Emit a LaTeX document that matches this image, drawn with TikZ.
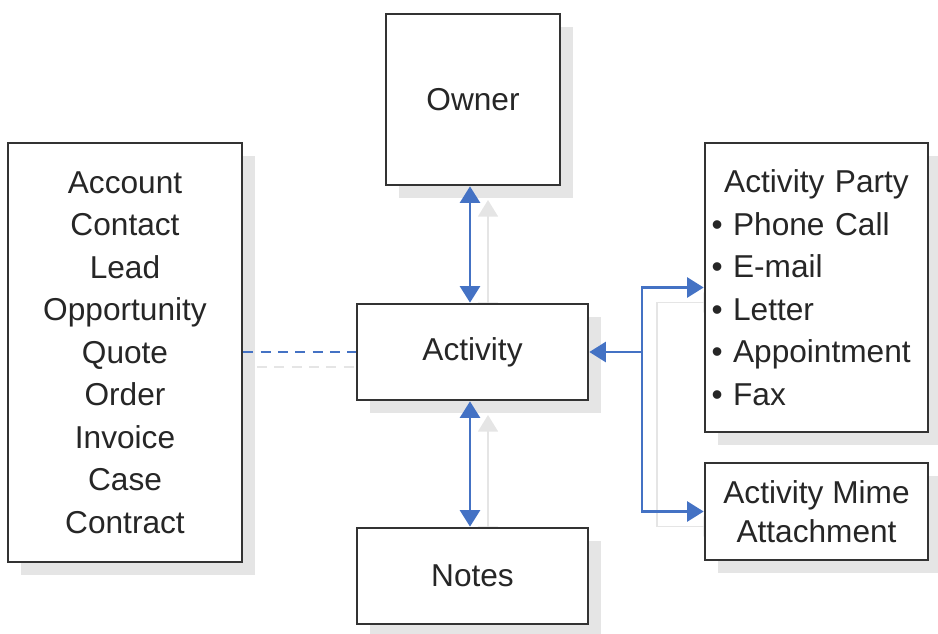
\documentclass[tikz,border=0pt]{standalone}
\usepackage{fontspec}
\setmainfont{Liberation Sans}
\usetikzlibrary{arrows.meta,shadows}
\definecolor{linkblue}{RGB}{68,114,196}
\tikzset{
	box/.style={draw=black!80, line width=2.2pt, fill=white, inner sep=2pt,
		drop shadow={shadow xshift=0.4cm, shadow yshift=-0.4cm, fill=black!10, opacity=1},
		font=\fontsize{27}{36.3}\selectfont, text=black!85},
	tip/.tip={Triangle[width=0.6cm,length=0.5cm]},
	link/.style={linkblue, line width=2.5pt, tip-tip},
	feed/.style={linkblue, line width=2.5pt, -tip},
	ghost/.style={black!10, line width=1.5pt, transform canvas={shift={(0.45cm,-0.45cm)}}}
}
\begin{document}
	\begin{tikzpicture}[x=0.03cm,y=-0.03cm]
		\useasboundingbox (0,0) rectangle (938,633);
		\coordinate (fork) at (642,352);
		\coordinate (ghostfork) at (642,352);
		% faint copies of the connectors
		\draw[link,ghost] (473,185) -- (473,304);
		\draw[link,ghost] (473,400) -- (473,528);
		\draw[link,ghost] (705,287.5) -| (ghostfork) |- (705,511.5);
		\draw[ghost,dashed,dash pattern=on 0.3cm off 0.22cm] (242,352) -- (357,352);
		\node[box, minimum width=7.02cm, minimum height=12.57cm, align=center] (objects) at (125,352.5)
			{Account\\Contact\\Lead\\Opportunity\\Quote\\Order\\Invoice\\Case\\Contract};
		\node[box, minimum width=5.22cm, minimum height=5.13cm] (owner) at (473,99.5) {Owner};
		\node[box, minimum width=6.93cm, minimum height=2.88cm] (activity) at (472.5,352) {Activity};
		\node[box, minimum width=6.93cm, minimum height=2.88cm] (notes) at (472.5,576) {Notes};
		\node[box, minimum width=6.69cm, minimum height=8.67cm, text width=6.3cm] (party) at (816.5,287.5)
			{{\centering Activity Party\par}\raggedright
			\textbullet\ Phone Call\\\textbullet\ E-mail\\\textbullet\ Letter\\\textbullet\ Appointment\\\textbullet\ Fax};
		\node[box, minimum width=6.69cm, minimum height=2.91cm, align=center, font=\fontsize{27}{33}\selectfont] (mime) at (816.5,511.5)
			{Activity Mime\\Attachment};
		\draw[link] (owner.south -| 470,0) -- (activity.north -| 470,0);
		\draw[link] (activity.south -| 470,0) -- (notes.north -| 470,0);
		\draw[link] (party.west) -| (fork) |- (mime.west);
		\draw[feed] (fork) -- (activity.east);
		\draw[linkblue, line width=2.5pt, dashed, dash pattern=on 0.3cm off 0.22cm] (objects.east |- activity) -- (activity.west);
	\end{tikzpicture}
\end{document}
